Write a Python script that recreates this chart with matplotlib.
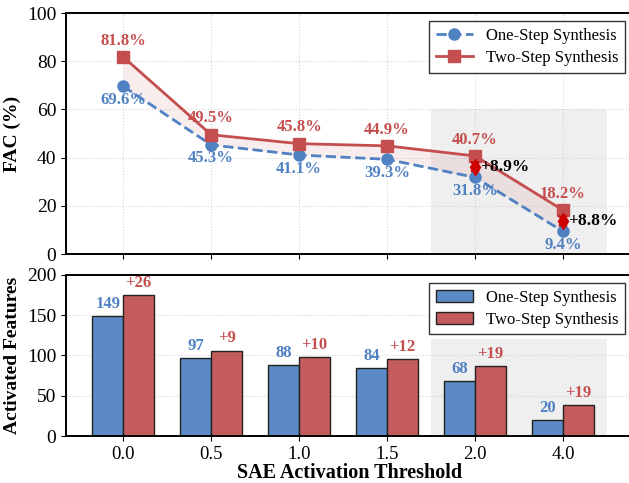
import numpy as np
import matplotlib.pyplot as plt

# ==========================================
# DATOS
# ==========================================
thresholds = ["0.0", "0.5", "1.0", "1.5", "2.0", "4.0"]
fac_one = [69.6, 45.3, 41.1, 39.3, 31.8, 9.4]
fac_two = [81.8, 49.5, 45.8, 44.9, 40.7, 18.2]
feat_one = [149, 97, 88, 84, 68, 20]
feat_two = [175, 106, 98, 96, 87, 39]
gap_idx = [4, 5]

BLUE = "#4f81c3"
RED = "#c44e4e"
BAR_BLUE = "#5b8ac4"
BAR_RED = "#c55c5c"

plt.rcParams["font.family"] = ["Liberation Serif", "DejaVu Serif"]
plt.rcParams["font.size"] = 12
plt.rcParams["xtick.labelsize"] = 13.5
plt.rcParams["ytick.labelsize"] = 14

x = np.arange(len(thresholds))

fig = plt.figure(figsize=(6.29, 4.83), dpi=100)
ax1 = fig.add_axes([0.105, 0.474, 0.902, 0.499])
ax2 = fig.add_axes([0.105, 0.097, 0.902, 0.334])

# ==========================================
# PANEL SUPERIOR: FAC
# ==========================================
ax1.axvspan(3.5, 5.5, ymin=0, ymax=0.6, color="#efefef", zorder=0, lw=0)
ax1.fill_between(x, fac_one, fac_two, color=RED, alpha=0.1, lw=0, zorder=1)
ax1.plot(x, fac_one, "--o", color=BLUE, lw=2, ms=8, label="One-Step Synthesis", zorder=3)
ax1.plot(x, fac_two, "-s", color=RED, lw=2, ms=8, label="Two-Step Synthesis", zorder=3)

for i in range(len(x)):
    ax1.annotate(f"{fac_two[i]}%", (x[i], fac_two[i]), xytext=(0, 6),
                 textcoords="offset points", ha="center", va="bottom",
                 color=RED, fontsize=12, fontweight="bold")
    ax1.annotate(f"{fac_one[i]}%", (x[i], fac_one[i]), xytext=(0, -4),
                 textcoords="offset points", ha="center", va="top",
                 color=BLUE, fontsize=12, fontweight="bold")

for i in gap_idx:
    mid = (fac_one[i] + fac_two[i]) / 2
    ax1.annotate("", xy=(x[i], fac_two[i] - 1.5), xytext=(x[i], fac_one[i] + 1.5),
                 arrowprops=dict(arrowstyle="<->", color="#cc0000", lw=1.5), zorder=4)
    ax1.plot(x[i], mid, "d", color="#cc0000", ms=8, zorder=5)
    ax1.text(x[i] + 0.06, mid, f"+{fac_two[i] - fac_one[i]:.1f}%", ha="left", va="center",
             fontsize=12.5, fontweight="bold", color="black", zorder=5)

ax1.set_xlim(-0.65, 5.8)
ax1.set_ylim(0, 100)
ax1.set_xticks(x)
ax1.set_xticklabels([])
ax1.set_yticks([0, 20, 40, 60, 80, 100])
ax1.set_ylabel("FAC (%)", fontsize=14, fontweight="bold")
ax1.grid(True, linestyle=":", color="#cccccc", alpha=0.8)
ax1.set_axisbelow(True)
ax1.legend(loc="upper right", fontsize=12, fancybox=False, edgecolor="#333333",
           framealpha=1, handlelength=2.2, borderpad=0.4, labelspacing=0.35)
for s in ax1.spines.values():
    s.set_linewidth(1.4)

# ==========================================
# PANEL INFERIOR: FEATURES
# ==========================================
w = 0.35
ax2.axvspan(3.5, 5.5, ymin=0, ymax=0.6, color="#efefef", zorder=0, lw=0)
ax2.bar(x - w / 2, feat_one, w, color=BAR_BLUE, edgecolor="#222222", lw=1,
        label="One-Step Synthesis", zorder=2)
ax2.bar(x + w / 2, feat_two, w, color=BAR_RED, edgecolor="#222222", lw=1,
        label="Two-Step Synthesis", zorder=2)

for i in range(len(x)):
    ax2.annotate(f"{feat_one[i]}", (x[i] - w / 2, feat_one[i]), xytext=(0, 3),
                 textcoords="offset points", ha="center", va="bottom",
                 color=BLUE, fontsize=12, fontweight="bold")
    ax2.annotate(f"+{feat_two[i] - feat_one[i]}", (x[i] + w / 2, feat_two[i]), xytext=(0, 3),
                 textcoords="offset points", ha="center", va="bottom",
                 color=RED, fontsize=12, fontweight="bold")

ax2.set_xlim(-0.65, 5.8)
ax2.set_ylim(0, 200)
ax2.set_xticks(x)
ax2.set_xticklabels(thresholds)
ax2.set_yticks([0, 50, 100, 150, 200])
ax2.set_ylabel("Activated Features", fontsize=14, fontweight="bold")
ax2.set_xlabel("SAE Activation Threshold", fontsize=14.5, fontweight="bold", labelpad=0)
ax2.grid(True, axis="y", linestyle=":", color="#cccccc", alpha=0.8)
ax2.set_axisbelow(True)
ax2.legend(loc="upper right", fontsize=12, fancybox=False, edgecolor="#333333",
           framealpha=1, handlelength=2.2, borderpad=0.4, labelspacing=0.35)
for s in ax2.spines.values():
    s.set_linewidth(1.4)

fig.align_ylabels([ax1, ax2])
plt.savefig("out.png", dpi=100)
plt.close()
